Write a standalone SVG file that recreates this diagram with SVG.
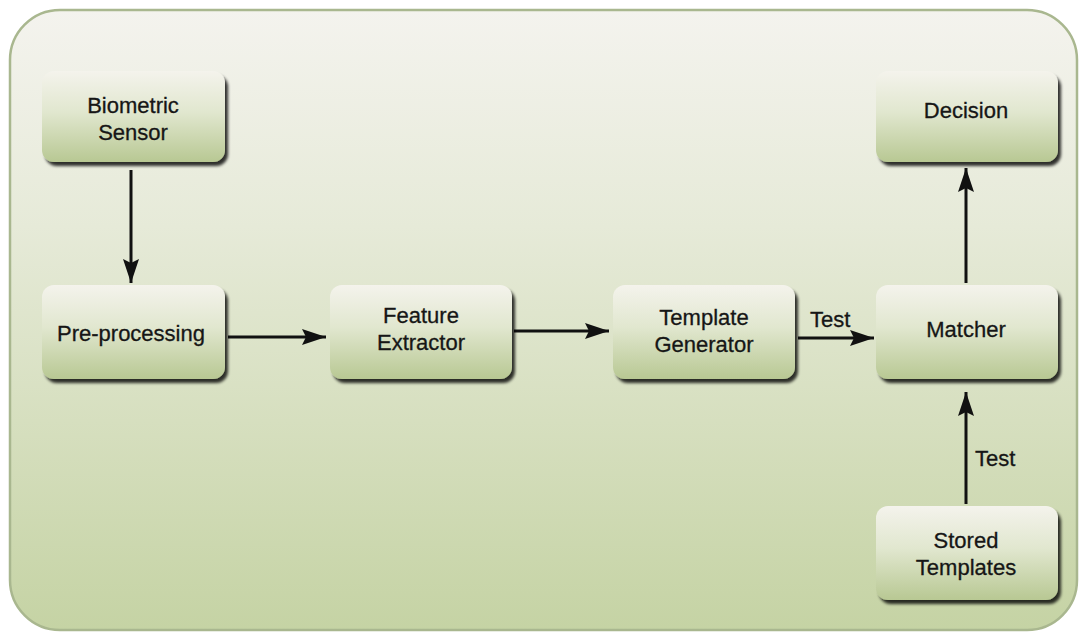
<svg xmlns="http://www.w3.org/2000/svg" width="1080" height="632" viewBox="0 0 1080 632">
  <defs>
    <linearGradient id="bg" x1="0" y1="0" x2="0" y2="1">
      <stop offset="0" stop-color="#f4f3ee"/>
      <stop offset="0.35" stop-color="#e6ead8"/>
      <stop offset="1" stop-color="#c5d3a4"/>
    </linearGradient>
    <linearGradient id="node" x1="0" y1="0" x2="0" y2="1">
      <stop offset="0" stop-color="#f4f3ec"/>
      <stop offset="0.45" stop-color="#e1e7cf"/>
      <stop offset="1" stop-color="#b8c893"/>
    </linearGradient>
    <filter id="shadow" x="-10%" y="-10%" width="125%" height="130%">
      <feGaussianBlur in="SourceAlpha" stdDeviation="1.8"/>
      <feOffset dx="3" dy="4" result="b"/>
      <feComponentTransfer><feFuncA type="linear" slope="0.8"/></feComponentTransfer>
      <feMerge><feMergeNode/><feMergeNode in="SourceGraphic"/></feMerge>
    </filter>
    <marker id="arrow" markerWidth="26" markerHeight="20" refX="24" refY="10" orient="auto" markerUnits="userSpaceOnUse">
      <path d="M0,2 L24,10 L0,18 L4,10 Z" fill="#111"/>
    </marker>
  </defs>
  <style>
    .box { fill: url(#node); filter: url(#shadow); }
    .lbl { font-family: "Liberation Sans", Arial, sans-serif; font-size: 22px; fill: #161616; stroke: #161616; stroke-width: 0.3; text-anchor: middle; }
    .edge { stroke: #111; stroke-width: 3; fill: none; marker-end: url(#arrow); }
    .elbl { font-family: "Liberation Sans", Arial, sans-serif; font-size: 22px; fill: #161616; stroke: #161616; stroke-width: 0.3; }
  </style>
  <rect x="0" y="0" width="1080" height="632" fill="#ffffff"/>
  <rect id="frame" x="10" y="10" width="1067" height="620" rx="50" ry="50" fill="url(#bg)" stroke="#a9b78f" stroke-width="2.5"/>

  <g id="connectors">
    <line class="edge" x1="131" y1="170" x2="131" y2="283"/>
    <line class="edge" x1="228" y1="337" x2="326" y2="337"/>
    <line class="edge" x1="514" y1="331" x2="609" y2="331"/>
    <line class="edge" x1="798" y1="338" x2="874" y2="338"/>
    <text class="elbl" x="810" y="327">Test</text>
    <line class="edge" x1="966" y1="283" x2="966" y2="168"/>
    <line class="edge" x1="966" y1="504" x2="966" y2="392"/>
    <text class="elbl" x="975" y="466">Test</text>
  </g>

  <g id="biometric-sensor">
    <rect class="box" x="42" y="71" width="183" height="91" rx="12"/>
    <text class="lbl" x="133" y="113">Biometric</text>
    <text class="lbl" x="133" y="140">Sensor</text>
  </g>
  <g id="pre-processing">
    <rect class="box" x="42" y="285" width="183" height="94" rx="12"/>
    <text class="lbl" x="131" y="341">Pre-processing</text>
  </g>
  <g id="feature-extractor">
    <rect class="box" x="330" y="285" width="182" height="94" rx="12"/>
    <text class="lbl" x="421" y="323">Feature</text>
    <text class="lbl" x="421" y="350">Extractor</text>
  </g>
  <g id="template-generator">
    <rect class="box" x="613" y="285" width="182" height="94" rx="12"/>
    <text class="lbl" x="704" y="325">Template</text>
    <text class="lbl" x="704" y="352">Generator</text>
  </g>
  <g id="matcher">
    <rect class="box" x="876" y="285" width="182" height="94" rx="12"/>
    <text class="lbl" x="966" y="337">Matcher</text>
  </g>
  <g id="decision">
    <rect class="box" x="876" y="71" width="182" height="91" rx="12"/>
    <text class="lbl" x="966" y="118">Decision</text>
  </g>
  <g id="stored-templates">
    <rect class="box" x="876" y="506" width="182" height="94" rx="12"/>
    <text class="lbl" x="966" y="548">Stored</text>
    <text class="lbl" x="966" y="575">Templates</text>
  </g>
</svg>
